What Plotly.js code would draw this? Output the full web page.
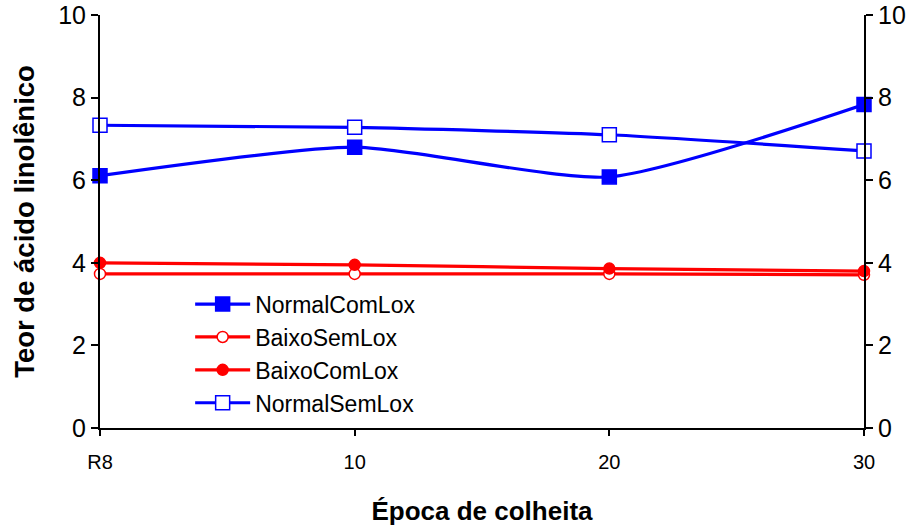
<!DOCTYPE html>
<html><head><meta charset="utf-8">
<script src="https://cdn.plot.ly/plotly-3.0.1.min.js"></script>
<style>body{margin:0;background:#fff}#chart{width:919px;height:528px}</style>
</head><body><div id="chart"></div>
<script>
const categories = ["R8", "10", "20", "30"];
const normalComLox = [6.11, 6.80, 6.08, 7.83];
const baixoSemLox = [3.73, 3.73, 3.73, 3.71];
const baixoComLox = [4.00, 3.95, 3.86, 3.80];
const normalSemLox = [7.33, 7.28, 7.10, 6.71];
const yTicks = [0, 2, 4, 6, 8, 10];

const blue = "#0000FF", red = "#FF0000";
function tr(name, y, color, symbol, size, fill) {
  return {
    x: categories, y: y, name: name, type: "scatter", mode: "lines+markers",
    line: {color: color, width: 3.2, shape: "spline", smoothing: 0.6},
    marker: {symbol: symbol, size: size, color: fill, line: {color: color, width: 1.5}},
    cliponaxis: false
  };
}
const data = [
  tr("NormalComLox", normalComLox, blue, "square", 14, blue),
  tr("BaixoSemLox", baixoSemLox, red, "circle", 11, "#FFFFFF"),
  tr("BaixoComLox", baixoComLox, red, "circle", 11, red),
  tr("NormalSemLox", normalSemLox, blue, "square", 14, "#FFFFFF"),
  {x: categories, y: normalComLox, yaxis: "y2", showlegend: false, hoverinfo: "skip",
   mode: "lines", line: {width: 0}, opacity: 0}
];
const ff = "Liberation Sans, Arial, sans-serif";
const layout = {
  width: 919, height: 528,
  margin: {l: 100, r: 55, t: 15, b: 100},
  paper_bgcolor: "#fff", plot_bgcolor: "#fff",
  font: {family: ff, color: "#000"},
  showlegend: true,
  legend: {x: 0.118, y: 0.352, xanchor: "left", yanchor: "top", itemwidth: 55,
           font: {family: ff, size: 23, color: "#000"},
           bgcolor: "rgba(0,0,0,0)", tracegroupgap: 0},
  xaxis: {type: "category", range: [0, 3], showgrid: false, zeroline: false,
          showline: true, linecolor: "#000", linewidth: 2,
          ticks: "outside", ticklen: 6, tickwidth: 2, tickcolor: "#000",
          ticklabelstandoff: 9,
          tickfont: {family: ff, size: 20, color: "#000"},
          title: {text: "<b>Época de colheita</b>", font: {family: ff, size: 26, color: "#000"}, standoff: 30}},
  yaxis: {range: [0, 10], tickvals: yTicks, showgrid: false, zeroline: false,
          showline: true, linecolor: "#000", linewidth: 2,
          ticks: "outside", ticklen: 7, tickwidth: 2, tickcolor: "#000",
          tickfont: {family: ff, size: 25, color: "#000"},
          title: {text: "<b>Teor de ácido linolênico</b>", font: {family: ff, size: 27.5, color: "#000"}, standoff: 16}},
  yaxis2: {range: [0, 10], tickvals: yTicks, overlaying: "y", side: "right",
          showgrid: false, zeroline: false, showline: true, linecolor: "#000", linewidth: 2,
          ticks: "outside", ticklen: 7, tickwidth: 2, tickcolor: "#000",
          tickfont: {family: ff, size: 25, color: "#000"}}
};
Plotly.newPlot("chart", data, layout, {displayModeBar: false, staticPlot: true});
</script></body></html>
